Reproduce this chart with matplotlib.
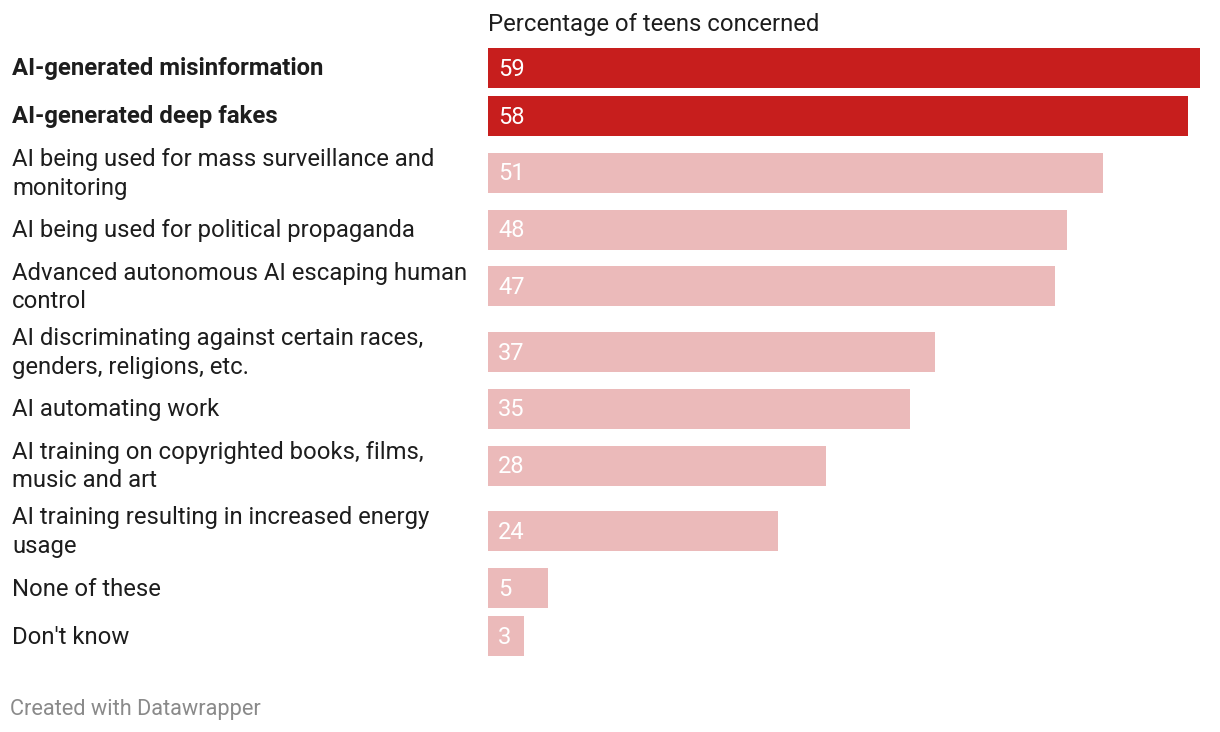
import matplotlib
matplotlib.use("Agg")
import matplotlib.pyplot as plt

categories = [
    "AI-generated misinformation",
    "AI-generated deep fakes",
    "AI being used for mass surveillance and\nmonitoring",
    "AI being used for political propaganda",
    "Advanced autonomous AI escaping human\ncontrol",
    "AI discriminating against certain races,\ngenders, religions, etc.",
    "AI automating work",
    "AI training on copyrighted books, films,\nmusic and art",
    "AI training resulting in increased energy\nusage",
    "None of these",
    "Don't know",
]
values = [59, 58, 51, 48, 47, 37, 35, 28, 24, 5, 3]
highlight = [True, True, False, False, False, False, False, False, False, False, False]
title = "Percentage of teens concerned"
footer = "Created with Datawrapper"

DARK = "#c71e1d"
LIGHT = "#ebbaba"
TEXT = "#1d1d1d"

plt.rcParams["font.family"] = ["Roboto", "DejaVu Sans"]

W, H = 1220, 732
fig = plt.figure(figsize=(W / 100, H / 100), dpi=100)

# layout in pixels
bar_h = 40
gap = 8
top = 48
halves = [20 if c.count("\n") == 0 else 28.8 for c in categories]
centers = []
for i, h in enumerate(halves):
    if i == 0:
        c = top + bar_h / 2
    else:
        c = centers[-1] + halves[i - 1] + gap + h
    centers.append(c)

x0_px, x1_px = 488, 1200
y_top_px = top
y_bot_px = centers[-1] + bar_h / 2
ax = fig.add_axes([x0_px / W, 1 - y_bot_px / H, (x1_px - x0_px) / W, (y_bot_px - y_top_px) / H])
ax.set_xlim(0, max(values))
ax.set_ylim(y_bot_px, y_top_px)
ax.axis("off")

for cat, v, hl, c in zip(categories, values, highlight, centers):
    ax.barh(c, v, height=bar_h, color=DARK if hl else LIGHT, left=0)
    ax.text(0.83, c + 1, str(v), color="white", fontsize=17, va="center", ha="left")
    fig.text(12 / W, 1 - (c + 1) / H, cat, fontsize=17.2, color=TEXT, va="center", ha="left",
             fontweight="bold" if hl else "normal", linespacing=1.32)

fig.text(488 / W, 1 - 25 / H, title, fontsize=17.2, color=TEXT, va="center", ha="left")
fig.text(10 / W, 1 - 710 / H, footer, fontsize=15.7, color="#8a8a8a", va="center", ha="left")

fig.savefig("out.png", dpi=100, facecolor="white")
